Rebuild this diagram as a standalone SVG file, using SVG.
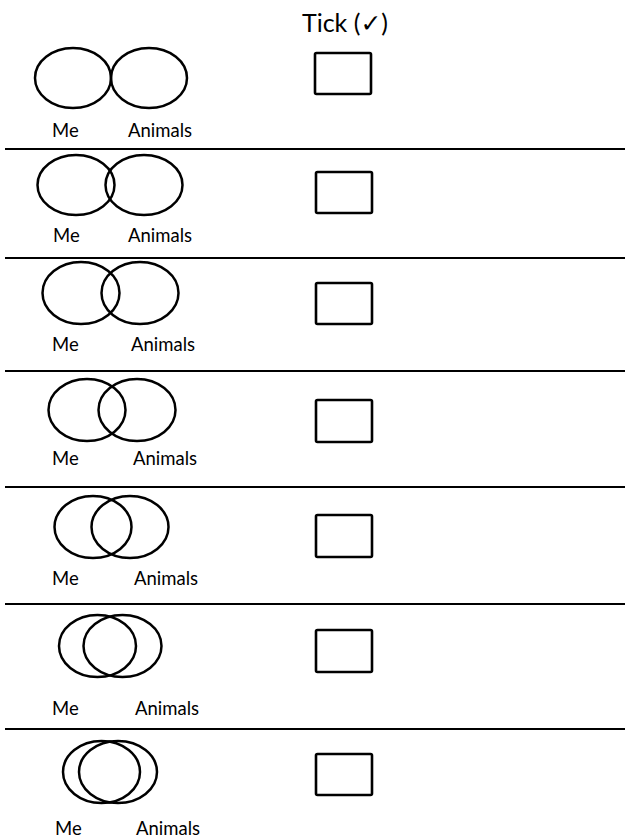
<svg xmlns="http://www.w3.org/2000/svg" width="625" height="839" viewBox="0 0 625 839">
  <style>
    .set { fill: none; stroke: #000; stroke-width: 2.5; }
    .box { fill: #fff; stroke: #000; stroke-width: 2.6; }
    .rule { stroke: #000; stroke-width: 2; }
    .lbl { font-family: Lato, "Liberation Sans", sans-serif; font-size: 18.5px; fill: #000; }
    .head { font-family: Lato, "Liberation Sans", "DejaVu Sans", sans-serif; font-size: 25px; fill: #000; }
  </style>
  <rect width="625" height="839" fill="#fff"/>

  <text class="head" x="345" y="32" text-anchor="middle">Tick (✓)</text>

  <!-- row separators -->
  <g id="rules">
    <line class="rule" x1="5" y1="149" x2="625" y2="149"/>
    <line class="rule" x1="5" y1="258" x2="625" y2="258"/>
    <line class="rule" x1="5" y1="371" x2="625" y2="371"/>
    <line class="rule" x1="5" y1="487" x2="625" y2="487"/>
    <line class="rule" x1="5" y1="604" x2="625" y2="604"/>
    <line class="rule" x1="5" y1="729" x2="625" y2="729"/>
  </g>

  <!-- one option per row: two sets with growing overlap, plus a tick box -->
  <g id="opt1">
    <ellipse class="set" cx="73" cy="78" rx="38" ry="30"/>
    <ellipse class="set" cx="149" cy="78" rx="38" ry="30"/>
    <text class="lbl" x="52" y="137">Me</text>
    <text class="lbl" x="128" y="137">Animals</text>
    <rect class="box" x="315" y="53" width="56" height="41" rx="1.5"/>
  </g>
  <g id="opt2">
    <ellipse class="set" cx="76" cy="185" rx="38.5" ry="30"/>
    <ellipse class="set" cx="144" cy="185" rx="38.5" ry="30"/>
    <text class="lbl" x="53" y="242">Me</text>
    <text class="lbl" x="128" y="242">Animals</text>
    <rect class="box" x="316" y="172" width="56" height="41" rx="1.5"/>
  </g>
  <g id="opt3">
    <ellipse class="set" cx="81" cy="293" rx="38.5" ry="31"/>
    <ellipse class="set" cx="140" cy="293" rx="38.5" ry="31"/>
    <text class="lbl" x="52" y="351">Me</text>
    <text class="lbl" x="131" y="351">Animals</text>
    <rect class="box" x="316" y="283" width="56" height="41" rx="1.5"/>
  </g>
  <g id="opt4">
    <ellipse class="set" cx="87" cy="410" rx="38.5" ry="31"/>
    <ellipse class="set" cx="137" cy="410" rx="38.5" ry="31"/>
    <text class="lbl" x="52" y="465">Me</text>
    <text class="lbl" x="133" y="465">Animals</text>
    <rect class="box" x="316" y="400" width="56" height="42" rx="1.5"/>
  </g>
  <g id="opt5">
    <ellipse class="set" cx="93" cy="527" rx="38.5" ry="31"/>
    <ellipse class="set" cx="130" cy="527" rx="38.5" ry="31"/>
    <text class="lbl" x="52" y="585">Me</text>
    <text class="lbl" x="134" y="585">Animals</text>
    <rect class="box" x="316" y="515" width="56" height="42" rx="1.5"/>
  </g>
  <g id="opt6">
    <ellipse class="set" cx="97.5" cy="646" rx="38.5" ry="31"/>
    <ellipse class="set" cx="122.5" cy="646" rx="39" ry="31"/>
    <text class="lbl" x="52" y="715">Me</text>
    <text class="lbl" x="135" y="715">Animals</text>
    <rect class="box" x="316" y="630" width="56" height="42" rx="1.5"/>
  </g>
  <g id="opt7">
    <ellipse class="set" cx="101.5" cy="772" rx="38.5" ry="31"/>
    <ellipse class="set" cx="118" cy="772" rx="39" ry="31"/>
    <text class="lbl" x="55" y="835">Me</text>
    <text class="lbl" x="136" y="835">Animals</text>
    <rect class="box" x="316" y="754" width="56" height="41" rx="1.5"/>
  </g>

  <!-- no connectors in this figure -->
  <g id="connectors"/>
</svg>
